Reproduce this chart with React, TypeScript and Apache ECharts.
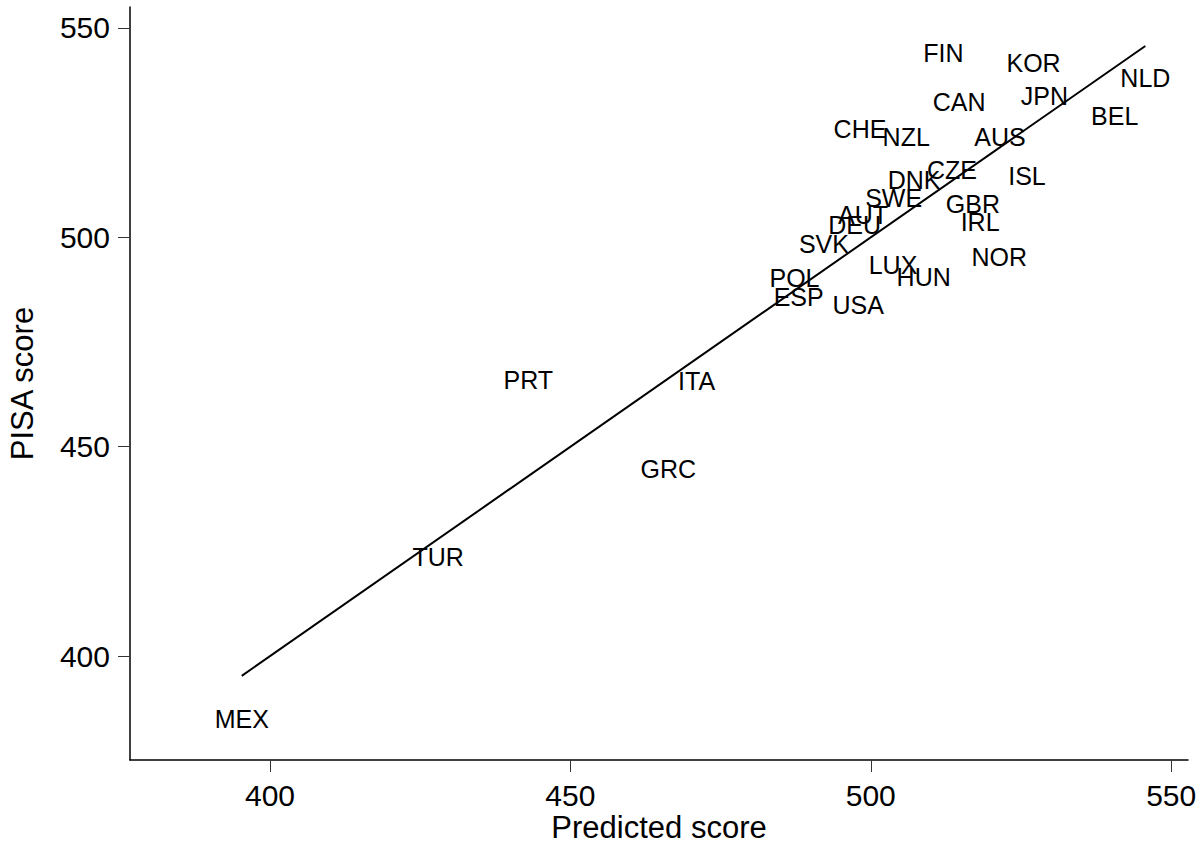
import React, { useEffect, useRef } from "react";
import * as echarts from "echarts";

const countries = ["FIN","KOR","NLD","JPN","CAN","BEL","CHE","NZL","AUS","ISL","CZE","DNK","SWE","GBR","AUT","DEU","IRL","SVK","NOR","LUX","HUN","POL","ESP","USA","PRT","ITA","GRC","TUR","MEX"];
const predicted = [512.1, 527.1, 545.7, 528.9, 514.7, 540.6, 498.2, 505.9, 521.5, 526.0, 513.5, 507.2, 503.8, 517.0, 498.7, 497.3, 518.2, 492.2, 521.4, 503.7, 508.8, 487.3, 488.0, 497.9, 443.0, 471.0, 466.3, 428.0, 395.3];
const pisa = [543.9, 541.6, 538.1, 533.8, 532.4, 528.9, 525.8, 524.0, 524.0, 514.6, 516.0, 513.6, 509.5, 508.0, 505.4, 502.9, 503.6, 498.5, 495.4, 493.3, 490.6, 490.2, 485.8, 483.8, 466.0, 465.8, 444.6, 423.7, 385.1];
const tickValues = [400, 450, 500, 550];

const FONT = "Liberation Sans, Arial, sans-serif";

export default function App() {
  const ref = useRef<HTMLDivElement>(null);
  useEffect(() => {
    if (!ref.current) return;
    const chart = echarts.init(ref.current, null, { renderer: "svg" });
    const lo = Math.min(...predicted);
    const hi = Math.max(...predicted);
    const axisCommon = {
      type: "value",
      splitLine: { show: false },
      axisLine: { show: true, lineStyle: { color: "#000", width: 1.5 } },
      axisTick: { show: true, length: 12, customValues: tickValues, lineStyle: { color: "#333", width: 1 } },
      axisLabel: { customValues: tickValues, color: "#000", fontSize: 30, fontFamily: FONT, margin: 20 },
      nameLocation: "middle",
      nameMoveOverlap: false,
      nameTextStyle: { color: "#000", fontSize: 31, lineHeight: 32, fontFamily: FONT },
    };
    chart.setOption({
      animation: false,
      grid: { left: 130, right: 16, top: 7, bottom: 86, containLabel: false, outerBoundsMode: "none" },
      xAxis: { ...axisCommon, min: 376.7, max: 552.8, name: "Predicted score", nameGap: 51 },
      yAxis: { ...axisCommon, min: 375.2, max: 555, name: "PISA score", nameGap: 92 },
      series: [
        {
          type: "line",
          data: [[lo, lo], [hi, hi]],
          symbol: "none",
          lineStyle: { color: "#000", width: 2 },
          z: 1,
        },
        {
          type: "scatter",
          data: predicted.map((p, i) => ({ value: [p, pisa[i]], name: countries[i] })),
          symbolSize: 0,
          itemStyle: { color: "#000", opacity: 1 },
          label: {
            show: true,
            position: "inside",
            formatter: (p: any) => p.name,
            color: "#000",
            opacity: 1,
            textBorderWidth: 0,
            fontSize: 25,
            fontFamily: FONT,
          },
          emphasis: { disabled: true },
          z: 2,
        },
      ],
    });
    return () => chart.dispose();
  }, []);
  return <div ref={ref} style={{ position: "fixed", left: 0, top: 0, width: 1204, height: 846, background: "#fff" }} />;
}
